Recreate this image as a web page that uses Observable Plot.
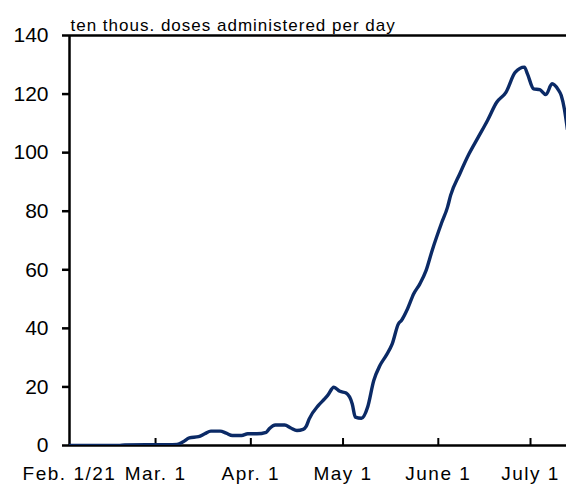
<!DOCTYPE html>
<html>
<head>
<meta charset="utf-8">
<script src="https://cdn.jsdelivr.net/npm/d3@7"></script>
<script src="https://cdn.jsdelivr.net/npm/@observablehq/plot@0.6"></script>
<style>
  html, body { margin: 0; padding: 0; background: #fff; }
  #chart svg { display: block; }
</style>
</head>
<body>
<div id="chart"></div>
<script>
const title = "ten thous. doses administered per day";

const dates = [
  "2021-02-01","2021-02-17","2021-02-19","2021-02-26","2021-03-05","2021-03-08",
  "2021-03-10","2021-03-12","2021-03-15","2021-03-17","2021-03-19","2021-03-22",
  "2021-03-24","2021-03-26","2021-03-29","2021-03-31","2021-04-03","2021-04-06",
  "2021-04-07","2021-04-09","2021-04-12","2021-04-14","2021-04-16","2021-04-18",
  "2021-04-19","2021-04-20","2021-04-23","2021-04-25","2021-04-26","2021-04-28",
  "2021-04-30","2021-05-02","2021-05-04","2021-05-05","2021-05-07","2021-05-09",
  "2021-05-11","2021-05-13","2021-05-15","2021-05-17","2021-05-19","2021-05-20",
  "2021-05-22","2021-05-24","2021-05-26","2021-05-28","2021-05-30","2021-06-02",
  "2021-06-04","2021-06-05","2021-06-08","2021-06-11","2021-06-14","2021-06-17",
  "2021-06-20","2021-06-23","2021-06-26","2021-06-29","2021-06-30","2021-07-02",
  "2021-07-04","2021-07-06","2021-07-08","2021-07-10","2021-07-11","2021-07-12",
  "2021-07-13"
];
const doses = [
  0, 0, 0.2, 0.3, 0.3, 0.4,
  1.3, 2.6, 3.0, 4.0, 4.9, 4.9,
  4.2, 3.4, 3.4, 4.0, 4.0, 4.5,
  5.7, 7.0, 7.0, 6.0, 5.1, 5.5,
  6.5, 9.1, 13.7, 15.9, 17.1, 19.9,
  18.5, 17.9, 14.2, 9.7, 9.3, 13.1,
  22.2, 27.3, 30.7, 34.7, 41.5, 42.7,
  46.7, 51.8, 55.2, 59.7, 66.6, 75.8,
  81.4, 85.4, 92.8, 99.6, 105.3, 111.0,
  117.2, 120.6, 127.4, 129.2, 126.9, 121.8,
  121.5, 119.8, 123.5, 121.5, 119.5, 115.0,
  108.0
];

const tickDates = ["2021-02-01","2021-03-01","2021-04-01","2021-05-01","2021-06-01","2021-07-01"];
const tickLabels = ["Feb. 1/21","Mar. 1","Apr. 1","May 1","June 1","July 1"];
const yTicks = [0, 20, 40, 60, 80, 100, 120, 140];
const xDomain = ["2021-02-01T00:00Z", "2021-07-12T17:00Z"];
const yDomain = [0, 140];

const W = 566, H = 484;
const mL = 69, mR = 0, mT = 35, mB = 39;

const data = dates.map((d, i) => ({date: new Date(d), value: doses[i]}));
const tDates = tickDates.map(d => new Date(d));
const labelMap = new Map(tDates.map((d, i) => [+d, tickLabels[i]]));

const plot = Plot.plot({
  width: W,
  height: H,
  marginLeft: mL,
  marginRight: mR,
  marginTop: mT,
  marginBottom: mB,
  style: {fontFamily: "'Liberation Sans', Arial, sans-serif", background: "#fff", color: "#000"},
  x: {type: "utc", domain: xDomain.map(d => new Date(d))},
  y: {domain: yDomain},
  marks: [
    Plot.ruleY([yDomain[0], yDomain[1]], {stroke: "#000", strokeWidth: 2.5}),
    Plot.ruleX([tDates[0]], {stroke: "#000", strokeWidth: 2.5}),
    Plot.ruleX(tDates.slice(1), {stroke: "#000", strokeWidth: 2, insetTop: H - mT - mB - 7}),
    Plot.axisY({ticks: yTicks, tickSize: 7, tickPadding: 14, fontSize: 21, strokeWidth: 2.5, label: null}),
    Plot.axisX({ticks: tDates, tickFormat: d => labelMap.get(+d), tickSize: 0, tickPadding: 21, fontSize: 19, label: null}),
    Plot.line(data, {x: "date", y: "value", stroke: "#0b2a66", strokeWidth: 3.4, curve: "monotone-x", clip: true}),
    Plot.text([title], {text: d => d, frameAnchor: "top-left", textAnchor: "start", lineAnchor: "bottom", dx: 1, dy: -5, fontSize: 17, fill: "#000"})
  ]
});

const labelSet = new Set(tickLabels);
d3.select(plot).selectAll("text").each(function() {
  const t = this.textContent;
  if (t === title) d3.select(this).attr("letter-spacing", "1px");
  else if (labelSet.has(t)) d3.select(this).attr("letter-spacing", "1.5px");
});

document.getElementById("chart").appendChild(plot);
</script>
</body>
</html>
